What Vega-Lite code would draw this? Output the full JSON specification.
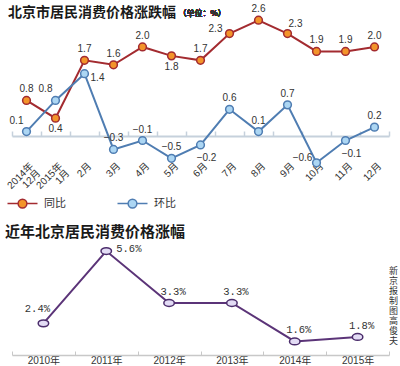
{
  "$schema": "https://vega.github.io/schema/vega-lite/v6.json",
  "padding": {"left": 5, "top": 4, "right": 0, "bottom": 0},
  "background": "white",
  "spacing": 9,
  "config": {
    "view": {"stroke": null},
    "font": "Liberation Sans, Noto Sans CJK SC",
    "axis": {"grid": false}
  },
  "resolve": {"scale": {"stroke": "independent", "fill": "independent"}, "legend": {"stroke": "independent", "fill": "independent"}},
  "vconcat": [
    {
      "width": 377,
      "height": 147,
      "title": {"text": "北京市居民消费价格涨跌幅", "anchor": "start", "frame": "group", "fontSize": 14, "font": "Noto Sans CJK SC", "fontWeight": "bold", "color": "#1a1a1a", "offset": -15.5, "dx": -4},
      "data": {"values": [
        {"month": "2014年12月", "series": "同比", "value": 0.8},
        {"month": "2015年1月", "series": "同比", "value": 0.4},
        {"month": "2月", "series": "同比", "value": 1.7},
        {"month": "3月", "series": "同比", "value": 1.6},
        {"month": "4月", "series": "同比", "value": 2.0},
        {"month": "5月", "series": "同比", "value": 1.8},
        {"month": "6月", "series": "同比", "value": 1.7},
        {"month": "7月", "series": "同比", "value": 2.3},
        {"month": "8月", "series": "同比", "value": 2.6},
        {"month": "9月", "series": "同比", "value": 2.3},
        {"month": "10月", "series": "同比", "value": 1.9},
        {"month": "11月", "series": "同比", "value": 1.9},
        {"month": "12月", "series": "同比", "value": 2.0},
        {"month": "2014年12月", "series": "环比", "value": 0.1},
        {"month": "2015年1月", "series": "环比", "value": 0.8},
        {"month": "2月", "series": "环比", "value": 1.4},
        {"month": "3月", "series": "环比", "value": -0.3},
        {"month": "4月", "series": "环比", "value": -0.1},
        {"month": "5月", "series": "环比", "value": -0.5},
        {"month": "6月", "series": "环比", "value": -0.2},
        {"month": "7月", "series": "环比", "value": 0.6},
        {"month": "8月", "series": "环比", "value": 0.1},
        {"month": "9月", "series": "环比", "value": 0.7},
        {"month": "10月", "series": "环比", "value": -0.6},
        {"month": "11月", "series": "环比", "value": -0.1},
        {"month": "12月", "series": "环比", "value": 0.2}
      ]},
      "encoding": {
        "x": {
          "field": "month", "type": "ordinal",
          "sort": ["2014年12月", "2015年1月", "2月", "3月", "4月", "5月", "6月", "7月", "8月", "9月", "10月", "11月", "12月"],
          "scale": {"type": "band", "paddingInner": 0, "paddingOuter": 0},
          "axis": {
            "title": null, "offset": -29,
            "domainColor": "#c6d1dc", "domainWidth": 2,
            "tickBand": "extent", "tickColor": "#c6d1dc", "tickSize": -5, "tickWidth": 1.5,
            "labelAngle": -45, "labelAlign": "right", "labelBaseline": "middle",
            "labelPadding": 33, "labelOffset": 5, "labelFontSize": 10, "labelColor": "#333", "labelLineHeight": 10,
            "labelExpr": "datum.value == '2014年12月' ? ['2014年', '12月'] : datum.value == '2015年1月' ? ['2015年', '1月'] : datum.value"
          }
        },
        "y": {"field": "value", "type": "quantitative", "scale": {"domain": [-0.65, 2.65], "nice": false, "zero": false}, "axis": null}
      },
      "layer": [
        {
          "mark": {"type": "line", "strokeWidth": 2},
          "encoding": {
            "stroke": {"field": "series", "type": "nominal", "sort": ["同比", "环比"], "scale": {"domain": ["同比", "环比"], "range": ["#a32b30", "#4f7db2"]},
              "legend": {"orient": "bottom", "direction": "horizontal", "title": null, "symbolType": "M-3.75,0L-1.1,0M1.1,0L3.75,0M1.1,0A1.1,1.1,0,1,1,-1.1,0A1.1,1.1,0,1,1,1.1,0Z", "symbolSize": 64, "symbolStrokeWidth": 1.5, "labelOffset": 16, "columnPadding": 48, "labelFontSize": 11, "labelColor": "#333", "offset": -5, "padding": 5}}
          }
        },
        {
          "mark": {"type": "point", "filled": true, "size": 60, "strokeWidth": 1.5, "opacity": 1},
          "encoding": {
            "stroke": {"field": "series", "type": "nominal", "sort": ["同比", "环比"]},
            "fill": {"field": "series", "type": "nominal", "sort": ["同比", "环比"], "scale": {"domain": ["同比", "环比"], "range": ["#f3942a", "#acd6f3"]},
              "legend": {"orient": "bottom", "direction": "horizontal", "title": null, "symbolType": "M-3.75,0L-1.1,0M1.1,0L3.75,0M1.1,0A1.1,1.1,0,1,1,-1.1,0A1.1,1.1,0,1,1,1.1,0Z", "symbolSize": 64, "symbolStrokeWidth": 1.5, "labelOffset": 16, "columnPadding": 48, "labelFontSize": 11, "labelColor": "#333", "offset": -5, "padding": 5}}
          }
        },
        {
          "transform": [{"filter": "(datum.series == '同比' && indexof(['2015年1月', '5月', '7月', '9月'], datum.month) < 0) || (datum.series == '环比' && indexof(['3月', '4月', '5月', '7月', '8月', '9月', '12月'], datum.month) >= 0)"}],
          "mark": {"type": "text", "dy": -11, "fontSize": 10, "color": "#333"},
          "encoding": {"text": {"field": "value", "type": "quantitative", "format": ".1f"}}
        },
        {
          "transform": [{"filter": "datum.series == '同比' && indexof(['2015年1月', '5月'], datum.month) >= 0"}],
          "mark": {"type": "text", "dy": 11, "fontSize": 10, "color": "#333"},
          "encoding": {"text": {"field": "value", "type": "quantitative", "format": ".1f"}}
        },
        {
          "transform": [{"filter": "(datum.series == '同比' && datum.month == '7月') || (datum.series == '环比' && datum.month == '10月')"}],
          "mark": {"type": "text", "dx": -14, "dy": -5, "fontSize": 10, "color": "#333"},
          "encoding": {"text": {"field": "value", "type": "quantitative", "format": ".1f"}}
        },
        {
          "transform": [{"filter": "datum.series == '同比' && datum.month == '9月'"}],
          "mark": {"type": "text", "dx": 8, "dy": -10, "fontSize": 10, "color": "#333"},
          "encoding": {"text": {"field": "value", "type": "quantitative", "format": ".1f"}}
        },
        {
          "transform": [{"filter": "datum.series == '环比' && indexof(['2014年12月', '2015年1月'], datum.month) >= 0"}],
          "mark": {"type": "text", "dx": -10, "dy": -11, "fontSize": 10, "color": "#333"},
          "encoding": {"text": {"field": "value", "type": "quantitative", "format": ".1f"}}
        },
        {
          "transform": [{"filter": "datum.series == '环比' && datum.month == '2月'"}],
          "mark": {"type": "text", "dx": 13, "dy": 4, "fontSize": 10, "color": "#333"},
          "encoding": {"text": {"field": "value", "type": "quantitative", "format": ".1f"}}
        },
        {
          "transform": [{"filter": "datum.series == '环比' && indexof(['6月', '11月'], datum.month) >= 0"}],
          "mark": {"type": "text", "dx": 6, "dy": 13, "fontSize": 10, "color": "#333"},
          "encoding": {"text": {"field": "value", "type": "quantitative", "format": ".1f"}}
        },
        {
          "mark": {"type": "text", "align": "left", "dx": 7, "fontSize": 8, "color": "#333", "font": "Noto Sans CJK SC"},
          "encoding": {"x": {"datum": "5月"}, "y": {"datum": 2.74}, "text": {"value": "（单位：%）"}}
        }
      ]
    },
    {
      "width": 377,
      "height": 113,
      "title": {"text": "近年北京居民消费价格涨幅", "anchor": "start", "frame": "group", "fontSize": 15, "font": "Noto Sans CJK SC", "fontWeight": "bold", "color": "#1a1a1a", "offset": 2, "dx": -7},
      "data": {"values": [
        {"year": "2010年", "value": 2.4},
        {"year": "2011年", "value": 5.6},
        {"year": "2012年", "value": 3.3},
        {"year": "2013年", "value": 3.3},
        {"year": "2014年", "value": 1.6},
        {"year": "2015年", "value": 1.8}
      ]},
      "transform": [{"calculate": "format(datum.value, '.1f') + '%'", "as": "label"}],
      "encoding": {
        "x": {
          "field": "year", "type": "ordinal",
          "scale": {"type": "band", "paddingInner": 0, "paddingOuter": 0},
          "axis": {"title": null, "labelAngle": 0, "domainColor": "#c8c8c8", "domainWidth": 1.5, "tickBand": "extent", "tickColor": "#c8c8c8", "tickSize": -4, "labelPadding": 4, "labelFontSize": 10, "labelColor": "#333"}
        },
        "y": {
          "field": "value", "type": "quantitative", "scale": {"domain": [1, 6], "nice": false, "zero": false},
          "axis": {"orient": "right", "title": ["新", "京", "报", "制", "图", "高", "俊", "夫"], "titleAngle": 0, "domain": false, "ticks": false, "labels": false, "grid": false,
            "titleFontSize": 9, "titleLineHeight": 10, "titleFontWeight": "normal", "titleColor": "#333", "titleFont": "Noto Sans CJK SC", "titleBaseline": "middle", "titleAlign": "center", "titleX": 4, "titleY": 28}
        }
      },
      "layer": [
        {"mark": {"type": "line", "strokeWidth": 2, "color": "#5b3478"}},
        {"mark": {"type": "point", "filled": true, "shape": "M1,0A1,0.65,0,1,1,-1,0A1,0.65,0,1,1,1,0Z", "size": 110, "fill": "#e3dcf5", "stroke": "#4b2d6b", "strokeWidth": 1.5, "opacity": 1}},
        {
          "transform": [{"filter": "indexof(['2012年', '2013年', '2014年', '2015年'], datum.year) >= 0"}],
          "mark": {"type": "text", "dx": 4, "dy": -11, "fontSize": 10.5, "font": "Liberation Mono", "color": "#333"},
          "encoding": {"text": {"field": "label"}}
        },
        {
          "transform": [{"filter": "datum.year == '2010年'"}],
          "mark": {"type": "text", "dx": -6, "dy": -14, "fontSize": 10.5, "font": "Liberation Mono", "color": "#333"},
          "encoding": {"text": {"field": "label"}}
        },
        {
          "transform": [{"filter": "datum.year == '2011年'"}],
          "mark": {"type": "text", "align": "left", "dx": 10, "dy": -2, "fontSize": 10.5, "font": "Liberation Mono", "color": "#333"},
          "encoding": {"text": {"field": "label"}}
        }
      ]
    }
  ]
}
